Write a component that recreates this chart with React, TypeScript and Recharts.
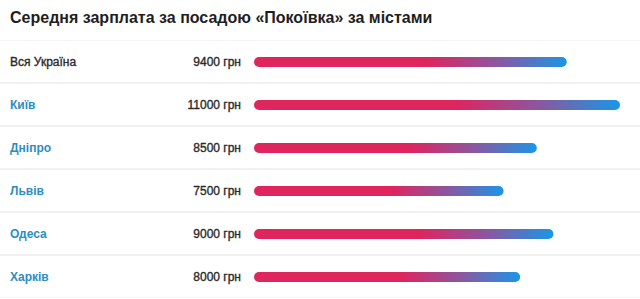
import { Bar, BarChart, XAxis, YAxis } from "recharts"

const cities = ["Вся Україна", "Київ", "Дніпро", "Львів", "Одеса", "Харків"]
const salaries = [9400, 11000, 8500, 7500, 9000, 8000]
const valueLabels = ["9400 грн", "11000 грн", "8500 грн", "7500 грн", "9000 грн", "8000 грн"]

const data = cities.map((city, i) => ({
  city,
  value: salaries[i],
  label: valueLabels[i],
}))

const ROW = 43
const FONT = "'Liberation Sans', Arial, sans-serif"

function CityTick(props: any) {
  const { y, payload, index } = props
  const row = data[index ?? 0] ?? data.find((d) => d.city === payload.value)
  const isAll = index === 0
  const nameColor = isAll ? "#2a2a2a" : "#2b8dc3"
  return (
    <g>
      <line x1={0} x2={640} y1={y - ROW / 2} y2={y - ROW / 2} stroke="#ececec" strokeWidth={1} />
      <line x1={0} x2={640} y1={y + ROW / 2} y2={y + ROW / 2} stroke="#ececec" strokeWidth={1} />
      <text
        x={10}
        y={y}
        dy={4}
        fontSize={12}
        fontWeight={isAll ? 400 : 700}
        fill={nameColor}
        stroke={isAll ? nameColor : "none"}
        strokeWidth={0.35}
        fontFamily={FONT}
      >
        {payload.value}
      </text>
      <text
        x={241}
        y={y}
        dy={4}
        textAnchor="end"
        fontSize={12}
        fill="#2a2a2a"
        stroke="#2a2a2a"
        strokeWidth={0.35}
        fontFamily={FONT}
      >
        {row?.label}
      </text>
    </g>
  )
}

export default function App() {
  return (
    <div
      style={{
        position: "absolute",
        left: 0,
        top: 0,
        width: 640,
        height: 299,
        background: "#ffffff",
      }}
    >
      <div
        style={{
          position: "absolute",
          left: 10,
          top: 9,
          fontSize: 16,
          fontWeight: 700,
          color: "#1e1e1e",
          whiteSpace: "nowrap",
          fontFamily: FONT,
        }}
      >
        Середня зарплата за посадою «Покоївка» за містами
      </div>
      <div style={{ position: "absolute", left: 0, top: 40 }}>
        <BarChart
          width={640}
          height={ROW * cities.length}
          data={data}
          layout="vertical"
          margin={{ top: 0, right: 20, bottom: 0, left: 0 }}
        >
          <defs>
            <linearGradient id="barGrad" x1="0" y1="0" x2="1" y2="0">
              <stop offset="0%" stopColor="#e0245e" />
              <stop offset="55%" stopColor="#e0245e" />
              <stop offset="78%" stopColor="#8a57a0" />
              <stop offset="100%" stopColor="#1a96e6" />
            </linearGradient>
          </defs>
          <XAxis type="number" domain={[0, 11000]} hide />
          <YAxis
            type="category"
            dataKey="city"
            width={254}
            axisLine={false}
            tickLine={false}
            interval={0}
            tick={<CityTick />}
          />
          <Bar
            dataKey="value"
            barSize={10}
            radius={5}
            fill="url(#barGrad)"
            isAnimationActive={false}
          />
        </BarChart>
      </div>
    </div>
  )
}
